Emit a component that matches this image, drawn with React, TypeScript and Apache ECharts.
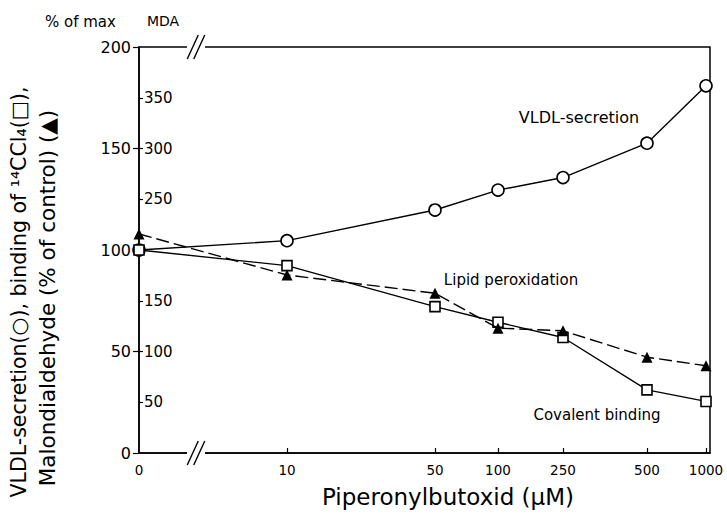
import React, { useEffect, useRef } from "react";
import * as echarts from "echarts";

// Doses (µM) and their position on the figure's (broken, log-like) dose axis
const doses = [0, 10, 50, 100, 250, 500, 1000];
const doseLabels = ["0", "10", "50", "100", "250", "500", "1000"];
const doseAxisPos = [0, 148, 296, 359, 424, 508, 567];
const DOSE_AXIS_MAX = 571;

// % of max (left scale)
const vldlSecretion = [100, 104.6, 119.7, 129.5, 135.7, 152.6, 180.9];
const covalentBinding = [100, 92.3, 72.1, 64.4, 56.9, 31.1, 25.4];
// MDA scale (inner scale, % of control)
const lipidPeroxidation = [215.8, 175.4, 157.4, 123, 120.4, 94.4, 86];

const leftTicks = [0, 50, 100, 150, 200];
const mdaTickLabels = [50, 100, 150, 250, 300, 350];

const FONT = "DejaVu Sans";
const GRID = { left: 139, top: 47, right: 17, bottom: 61 };
const W = 727;
const H = 514;

function pairs(vals: number[]) {
  return vals.map((v, i) => [doseAxisPos[i], v]);
}

function breakMark(cx: number, cy: number) {
  const dx = 6.5;
  const half = 12;
  const slant = 5.5;
  return [
    {
      type: "rect",
      shape: { x: cx - 9, y: cy - 3, width: 18, height: 6 },
      style: { fill: "#fff" },
      z: 100,
    },
    {
      type: "line",
      shape: { x1: cx - dx / 2 - slant, y1: cy + half, x2: cx - dx / 2 + slant, y2: cy - half },
      style: { stroke: "#000", lineWidth: 1.4 },
      z: 101,
    },
    {
      type: "line",
      shape: { x1: cx + dx / 2 - slant, y1: cy + half, x2: cx + dx / 2 + slant, y2: cy - half },
      style: { stroke: "#000", lineWidth: 1.4 },
      z: 101,
    },
  ];
}

export default function App() {
  const ref = useRef<HTMLDivElement>(null);
  useEffect(() => {
    if (!ref.current) return;
    document.body.style.margin = "0";
    const chart = echarts.init(ref.current, undefined, { renderer: "svg", width: W, height: H });
    const bottomY = H - GRID.bottom;
    const breakX = GRID.left + 57;
    const labelFor = (v: number) => {
      const i = doseAxisPos.findIndex((p) => Math.abs(p - v) < 0.01);
      return i >= 0 ? doseLabels[i] : "";
    };
    chart.setOption({
      animation: false,
      backgroundColor: "#fff",
      grid: {
        left: GRID.left,
        top: GRID.top,
        right: GRID.right,
        bottom: GRID.bottom,
        show: true,
        borderColor: "#000",
        borderWidth: 1.5,
        backgroundColor: "transparent",
      },
      xAxis: {
        type: "value",
        min: 0,
        max: DOSE_AXIS_MAX,
        splitLine: { show: false },
        axisLine: { show: true, lineStyle: { color: "#000", width: 1.5 } },
        axisTick: {
          show: true,
          inside: true,
          length: 5,
          customValues: doseAxisPos.slice(1),
          lineStyle: { color: "#000", width: 1.2 },
        },
        axisLabel: {
          customValues: doseAxisPos,
          formatter: (v: number) => labelFor(v),
          fontFamily: FONT,
          fontSize: 13.5,
          color: "#000",
          margin: 10,
        },
      },
      yAxis: [
        {
          type: "value",
          min: 0,
          max: 200,
          interval: 50,
          position: "left",
          splitLine: { show: false },
          axisLine: { show: true, lineStyle: { color: "#000", width: 1.5 } },
          axisTick: { show: true, inside: false, length: 6, lineStyle: { color: "#000", width: 1.2 } },
          axisLabel: {
            fontFamily: FONT,
            fontSize: 16,
            color: "#000",
            margin: 8,
            formatter: (v: number) => (leftTicks.includes(v) ? String(v) : ""),
          },
        },
        {
          type: "value",
          min: 0,
          max: 400,
          interval: 50,
          position: "left",
          offset: 0,
          splitLine: { show: false },
          axisLine: { show: false },
          axisTick: {
            show: true,
            inside: true,
            length: 4,
            customValues: mdaTickLabels,
            lineStyle: { color: "#000", width: 1.2 },
          },
          axisLabel: {
            inside: true,
            customValues: mdaTickLabels,
            fontFamily: FONT,
            fontSize: 15,
            color: "#000",
            margin: 5,
          },
        },
      ],
      series: [
        {
          name: "VLDL-secretion",
          type: "line",
          data: pairs(vldlSecretion),
          yAxisIndex: 0,
          symbol: "circle",
          symbolSize: 12,
          lineStyle: { color: "#000", width: 1.4 },
          itemStyle: { color: "#fff", borderColor: "#000", borderWidth: 1.6 },
          z: 3,
        },
        {
          name: "Covalent binding",
          type: "line",
          data: pairs(covalentBinding),
          yAxisIndex: 0,
          symbol: "rect",
          symbolSize: 10,
          lineStyle: { color: "#000", width: 1.4 },
          itemStyle: { color: "#fff", borderColor: "#000", borderWidth: 1.6 },
          z: 4,
        },
        {
          name: "Lipid peroxidation",
          type: "line",
          data: pairs(lipidPeroxidation),
          yAxisIndex: 1,
          symbol: "triangle",
          symbolSize: 11,
          lineStyle: { color: "#000", width: 1.4, type: [13, 5] },
          itemStyle: { color: "#000", borderColor: "#000", borderWidth: 0 },
          z: 5,
        },
      ],
      graphic: [
        ...breakMark(breakX, GRID.top),
        ...breakMark(breakX, bottomY),
        {
          type: "text",
          left: 45,
          top: 14,
          style: { text: "% of max", fontFamily: FONT, fontSize: 15, fill: "#000" },
        },
        {
          type: "text",
          left: 147,
          top: 14,
          style: { text: "MDA", fontFamily: FONT, fontSize: 14, fill: "#000" },
        },
        {
          type: "text",
          x: 579,
          y: 117,
          style: {
            text: "VLDL-secretion",
            fontFamily: FONT,
            fontSize: 16,
            fill: "#000",
            textAlign: "center",
            textVerticalAlign: "middle",
          },
        },
        {
          type: "text",
          x: 511,
          y: 280,
          style: {
            text: "Lipid peroxidation",
            fontFamily: FONT,
            fontSize: 15,
            fill: "#000",
            textAlign: "center",
            textVerticalAlign: "middle",
          },
        },
        {
          type: "text",
          x: 597,
          y: 415,
          style: {
            text: "Covalent binding",
            fontFamily: FONT,
            fontSize: 15,
            fill: "#000",
            textAlign: "center",
            textVerticalAlign: "middle",
          },
        },
        {
          type: "text",
          x: 448,
          y: 497,
          style: {
            text: "Piperonylbutoxid (µM)",
            fontFamily: FONT,
            fontSize: 23,
            fill: "#000",
            textAlign: "center",
            textVerticalAlign: "middle",
          },
        },
        {
          type: "text",
          x: 19,
          y: 292,
          rotation: Math.PI / 2,
          style: {
            text: "VLDL-secretion(○), binding of ¹⁴CCl₄(□),",
            fontFamily: FONT,
            fontSize: 20.5,
            fill: "#000",
            textAlign: "center",
            textVerticalAlign: "middle",
          },
        },
        {
          type: "text",
          x: 47,
          y: 298,
          rotation: Math.PI / 2,
          style: {
            text: "Malondialdehyde (% of control) (▲)",
            fontFamily: FONT,
            fontSize: 21.5,
            fill: "#000",
            textAlign: "center",
            textVerticalAlign: "middle",
          },
        },
      ],
    });
    return () => chart.dispose();
  }, []);
  return <div ref={ref} style={{ width: W, height: H }} />;
}
